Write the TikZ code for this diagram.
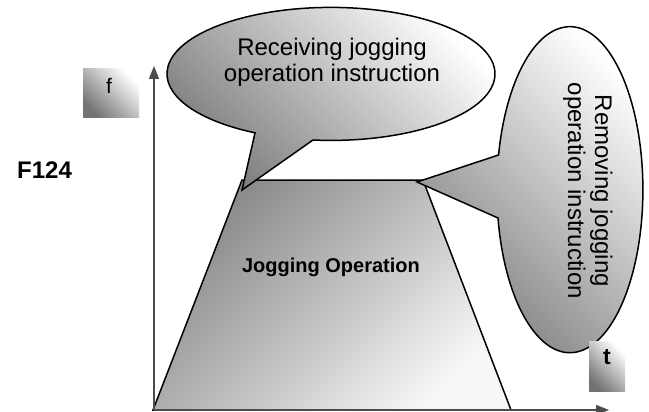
\documentclass[tikz,border=0pt]{standalone}
\usepackage{fontspec}
\setmainfont{Liberation Sans}
\usetikzlibrary{arrows.meta}
\tikzset{
  outline/.style={draw=black, line width=1.5pt, line join=miter},
  trapshade/.style={outline, top color=black!47, bottom color=black!3, shading angle=45},
  calloutshade/.style={outline, top color=black!52, bottom color=white, shading angle=135},
  axisline/.style={draw=black!70, line width=1.2pt, -{Triangle[length=13pt,width=10pt]}},
  lblbox/.style={draw=none, top color=black!55, bottom color=white, shading angle=135, inner sep=0pt},
  bigtext/.style={font=\fontsize{24}{27}\selectfont, align=center, inner sep=0pt},
}
\begin{document}
\begin{tikzpicture}[x=1pt,y=-1pt]
\useasboundingbox (0,0) rectangle (649,412);
% trapezoid
\shade[trapshade] (153,410) -- (242,180) -- (423,180) -- (511,410) -- cycle;
\node[font=\fontsize{20}{24}\selectfont\bfseries, anchor=base, inner sep=0pt] (jog) at (331,272) {Jogging Operation};
% axes
\coordinate (O) at (154,410);
\coordinate (ytip) at (154,66);
\coordinate (xtip) at (609,410);
\draw[axisline] (O) -- (ytip);
\draw[axisline] (O) -- (xtip);
% callout 1
\coordinate (c1tip) at (242,190);
\shade[calloutshade] (313,140) arc[start angle=96.3, end angle=-242.4, x radius=164, y radius=66.5] -- (c1tip) -- cycle;
\node[bigtext, anchor=base] (recv) at (332,82) {Receiving jogging\\operation instruction};
% callout 2
\coordinate (c2tip) at (417,182);
\shade[calloutshade] (498,218) arc[start angle=170, end angle=-167.7, x radius=73, y radius=163] -- (c2tip) -- cycle;
\node[bigtext, anchor=base, rotate=-90] (remv) at (568,191) {Removing jogging\\operation instruction};
% labels
\node[lblbox, minimum width=56pt, minimum height=49pt] (fbox) at (111,93.5) {};
\node[font=\fontsize{21}{24}\selectfont, inner sep=0pt] (flbl) at (109,86) {f};
\node[lblbox, minimum width=36pt, minimum height=50pt] (tbox) at (607,366) {};
\node[font=\fontsize{23}{26}\selectfont\bfseries, inner sep=0pt] (tlbl) at (607,357.5) {t};
\node[font=\fontsize{24}{27}\selectfont\bfseries, anchor=west, inner sep=0pt] (fcode) at (17,170.5) {F124};
\end{tikzpicture}
\end{document}
